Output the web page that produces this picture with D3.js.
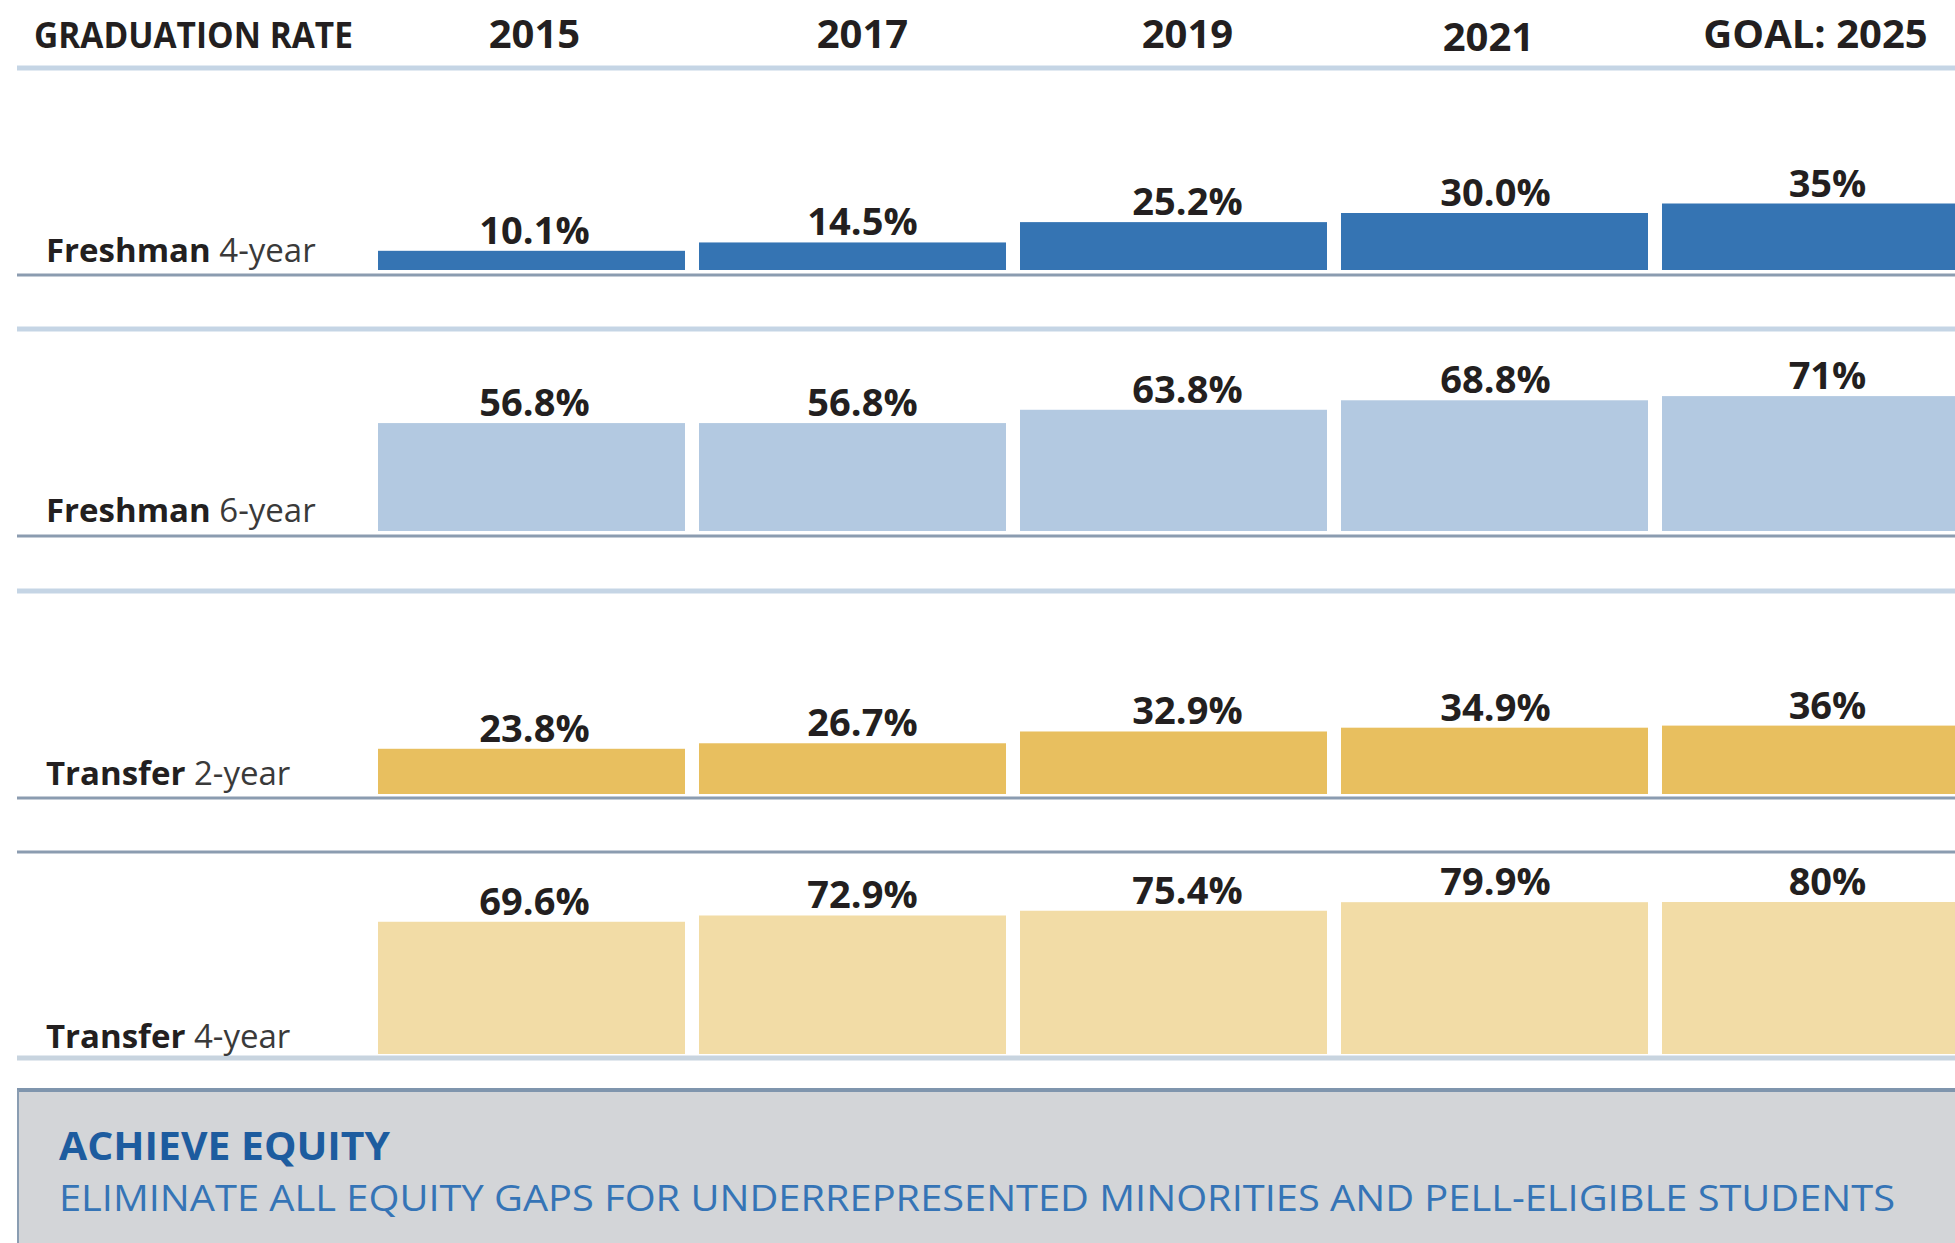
<!DOCTYPE html>
<html>
<head>
<meta charset="utf-8">
<script src="https://cdn.jsdelivr.net/npm/d3@7"></script>
<style>
  html, body { margin: 0; padding: 0; background: #ffffff; }
  svg { display: block; }
  text { font-family: "Open Sans", "Noto Sans", sans-serif; }
</style>
</head>
<body>
<div id="chart"></div>
<script>
// ---------------- data ----------------
const years = ["2015", "2017", "2019", "2021", "GOAL: 2025"];
const headerTitle = "GRADUATION RATE";
const rowBold = ["Freshman", "Freshman", "Transfer", "Transfer"];
const rowLight = ["4-year", "6-year", "2-year", "4-year"];
const freshman4 = [10.1, 14.5, 25.2, 30.0, 35];
const freshman6 = [56.8, 56.8, 63.8, 68.8, 71];
const transfer2 = [23.8, 26.7, 32.9, 34.9, 36];
const transfer4 = [69.6, 72.9, 75.4, 79.9, 80];
const series = [freshman4, freshman6, transfer2, transfer4];
const boxTitle = "ACHIEVE EQUITY";
const boxText = "ELIMINATE ALL EQUITY GAPS FOR UNDERREPRESENTED MINORITIES AND PELL-ELIGIBLE STUDENTS";

// ---------------- layout / style ----------------
const W = 1955, H = 1243;
const colors = ["#3574b3", "#b3c9e1", "#e8bf5f", "#f2dca6"];
const textColor = "#231f20";
const lightLine = "#c5d5e5";
const darkLine = "#8b9cb0";
// horizontal nudges of labels relative to bar centres (as placed in the original)
const headerNudge = [3, 10, 14, -6, 0];
const valueNudge = [3, 10, 14, 1, 12];
// per row: bar base, bottom line, label baseline
const rows = [
  { base: 270, bottom: 275, label: 262 },
  { base: 531, bottom: 536, label: 522 },
  { base: 794, bottom: 798, label: 785 },
  { base: 1054, bottom: 1058, label: 1048 }
];

const svg = d3.select("#chart").append("svg")
  .attr("width", W).attr("height", H)
  .attr("viewBox", `0 0 ${W} ${H}`);

const x = d3.scaleBand()
  .domain(years)
  .range([378, 1969])
  .paddingInner(0.0436)
  .paddingOuter(0);

const h = d3.scaleLinear().domain([0, 100]).range([0, 190]);

const fmt = (v, i) => (i === years.length - 1 ? d3.format(".0f")(v) : d3.format(".1f")(v)) + "%";

// ---------------- header ----------------
svg.append("text")
  .attr("x", 34).attr("y", 48)
  .attr("font-size", 36).attr("font-weight", 700)
  .attr("fill", textColor)
  .attr("textLength", 319).attr("lengthAdjust", "spacingAndGlyphs")
  .text(headerTitle);

svg.selectAll("text.year").data(years).join("text")
  .attr("class", "year")
  .attr("x", (d, i) => x(d) + x.bandwidth() / 2 + headerNudge[i])
  .attr("y", d => d === "2021" ? 51 : 48)
  .attr("text-anchor", "middle")
  .attr("font-size", 40).attr("font-weight", 700)
  .attr("fill", textColor)
  .text(d => d);

// separator lines
const lineSpecs = [
  { y: 68, color: lightLine, w: 5 },
  { y: 329, color: lightLine, w: 5 },
  { y: 591, color: lightLine, w: 5 },
  { y: 852, color: darkLine, w: 3 }
];
rows.forEach((r, i) => lineSpecs.push({ y: r.bottom, color: i === 3 ? "#c8d4df" : darkLine, w: i === 3 ? 5 : 3 }));

svg.selectAll("line.sep").data(lineSpecs).join("line")
  .attr("class", "sep")
  .attr("x1", 17).attr("x2", W)
  .attr("y1", d => d.y).attr("y2", d => d.y)
  .attr("stroke", d => d.color)
  .attr("stroke-width", d => d.w);

// ---------------- rows ----------------
series.forEach((vals, ri) => {
  const r = rows[ri];
  const g = svg.append("g").attr("class", "row");
  const data = vals.map((v, i) => ({ year: years[i], v, i }));

  g.selectAll("rect").data(data).join("rect")
    .attr("x", d => x(d.year))
    .attr("y", d => r.base - h(d.v))
    .attr("width", x.bandwidth())
    .attr("height", d => h(d.v))
    .attr("fill", colors[ri]);

  g.selectAll("text.val").data(data).join("text")
    .attr("class", "val")
    .attr("x", d => x(d.year) + x.bandwidth() / 2 + valueNudge[d.i])
    .attr("y", d => r.base - h(d.v) - 7)
    .attr("text-anchor", "middle")
    .attr("font-size", 38).attr("font-weight", 700)
    .attr("fill", textColor)
    .text(d => fmt(d.v, d.i));

  const lbl = g.append("text")
    .attr("x", 46).attr("y", r.label)
    .attr("font-size", 33)
    .attr("fill", textColor);
  lbl.append("tspan").attr("font-weight", 700).text(rowBold[ri]);
  lbl.append("tspan").attr("font-weight", 400).attr("fill", "#3a3a3a").text(" " + rowLight[ri]);
});

// ---------------- bottom box ----------------
svg.append("rect")
  .attr("x", 17).attr("y", 1090)
  .attr("width", W - 17).attr("height", H - 1090)
  .attr("fill", "#d3d5d8");
svg.append("line")
  .attr("x1", 17).attr("x2", W).attr("y1", 1090).attr("y2", 1090)
  .attr("stroke", "#7f95ad").attr("stroke-width", 4);
svg.append("line")
  .attr("x1", 18).attr("x2", 18).attr("y1", 1090).attr("y2", H)
  .attr("stroke", "#8a9db2").attr("stroke-width", 2);

svg.append("text")
  .attr("x", 59).attr("y", 1160)
  .attr("font-size", 39).attr("font-weight", 700)
  .attr("fill", "#1d5c9f")
  .attr("textLength", 331).attr("lengthAdjust", "spacingAndGlyphs")
  .text(boxTitle);

svg.append("text")
  .attr("x", 59).attr("y", 1211)
  .attr("font-size", 36).attr("font-weight", 400)
  .attr("fill", "#3574b6")
  .attr("textLength", 1836).attr("lengthAdjust", "spacingAndGlyphs")
  .text(boxText);
</script>
</body>
</html>
